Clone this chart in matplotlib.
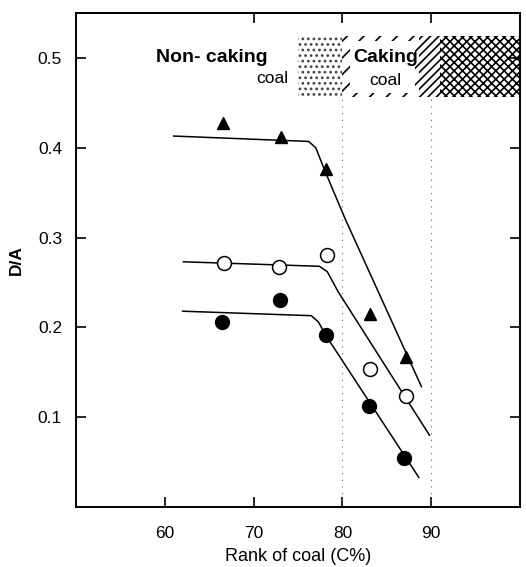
import numpy as np
import matplotlib.pyplot as plt
from matplotlib.patches import Rectangle

plt.rcParams['font.family'] = ['Liberation Sans', 'DejaVu Sans']
plt.rcParams['hatch.linewidth'] = 1.2

# measured points (rank of coal C%, D/A)
tri_x = [66.6, 73.1, 78.1, 83.1, 87.2]
tri_y = [0.428, 0.412, 0.376, 0.215, 0.167]
open_x = [66.7, 72.9, 78.3, 83.1, 87.2]
open_y = [0.272, 0.267, 0.281, 0.154, 0.124]
fill_x = [66.4, 73.0, 78.1, 83.0, 86.9]
fill_y = [0.206, 0.230, 0.191, 0.113, 0.054]

# fitted curves drawn through the points
tri_fit_x = [61.0, 76.2, 77.0, 78.0, 80.3, 88.9]
tri_fit_y = [0.413, 0.407, 0.400, 0.375, 0.321, 0.134]
open_fit_x = [62.1, 77.4, 78.3, 79.5, 89.8]
open_fit_y = [0.273, 0.268, 0.262, 0.240, 0.080]
fill_fit_x = [62.0, 76.5, 77.3, 78.2, 88.6]
fill_fit_y = [0.218, 0.213, 0.206, 0.190, 0.033]

fig = plt.figure(figsize=(5.26, 5.67), dpi=100)
ax = fig.add_axes([76/526, 1 - 507/567, 444/526, 494/567])
ax.set_xlim(50, 100)
ax.set_ylim(0, 0.55)

# caking band at the top
band_lo, band_hi = 0.456, 0.524
ax.add_patch(Rectangle((75, band_lo), 5, band_hi - band_lo, facecolor='none',
                       edgecolor='#444444', hatch='...', lw=0))
ax.add_patch(Rectangle((80, band_lo), 8.6, band_hi - band_lo, facecolor='none',
                       edgecolor='black', hatch='//', lw=0))
ax.add_patch(Rectangle((80.8, band_lo + 0.005), 7.4, band_hi - band_lo - 0.01,
                       facecolor='white', edgecolor='none'))
ax.add_patch(Rectangle((88.6, band_lo), 2.4, band_hi - band_lo, facecolor='none',
                       edgecolor='black', hatch='////', lw=0))
ax.add_patch(Rectangle((91, band_lo), 9, band_hi - band_lo, facecolor='none',
                       edgecolor='black', hatch='xxxx', lw=0))

ax.text(71.6, 0.501, 'Non- caking', fontsize=14, fontweight='bold', ha='right', va='center')
ax.text(73.9, 0.477, 'coal', fontsize=12.5, ha='right', va='center')
ax.text(81.2, 0.501, 'Caking', fontsize=14, fontweight='bold', ha='left', va='center')
ax.text(83.0, 0.475, 'coal', fontsize=12.5, ha='left', va='center')

for xv in [80, 90]:
    ax.plot([xv, xv], [0, band_lo], color='#666666', lw=0.8, ls=(0, (1, 5)))

ax.plot(tri_fit_x, tri_fit_y, color='black', lw=1.1)
ax.plot(open_fit_x, open_fit_y, color='black', lw=1.1)
ax.plot(fill_fit_x, fill_fit_y, color='black', lw=1.1)

ax.plot(tri_x, tri_y, '^', color='black', ms=9, ls='none')
ax.plot(open_x, open_y, 'o', mfc='white', mec='black', mew=1.1, ms=10, ls='none')
ax.plot(fill_x, fill_y, 'o', color='black', ms=10, ls='none')

ax.set_xticks([60, 70, 80, 90])
ax.set_yticks([0.1, 0.2, 0.3, 0.4, 0.5])
ax.set_yticklabels(['0.1', '0.2', '0.3', '0.4', '0.5'])
ax.tick_params(direction='in', length=7, width=1.2, labelsize=12.5, right=True)
ax.tick_params(axis='x', pad=14)
ax.tick_params(axis='y', pad=10)
sec = ax.secondary_xaxis('top')
sec.set_xticks([70, 80, 90])
sec.set_xticklabels([])
sec.tick_params(direction='in', length=7, width=1.2)
for s in ax.spines.values():
    s.set_linewidth(1.4)
sec.spines['top'].set_linewidth(1.4)

ax.set_xlabel('Rank of coal (C%)', fontsize=13, labelpad=5)
ax.set_ylabel('D/A', fontsize=12.5, fontweight='bold', labelpad=10)

fig.savefig('out.png', dpi=100)
